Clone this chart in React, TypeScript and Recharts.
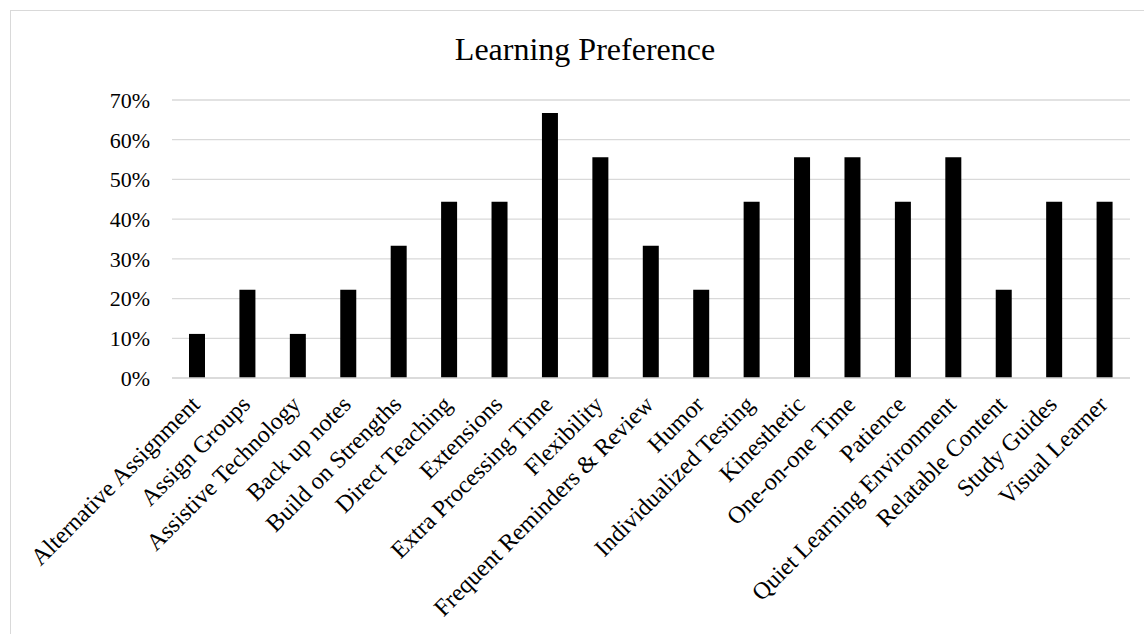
import React from 'react';
import { BarChart, Bar, XAxis, YAxis, CartesianGrid } from 'recharts';

const categories = [
  'Alternative Assignment',
  'Assign Groups',
  'Assistive Technology',
  'Back up notes',
  'Build on Strengths',
  'Direct Teaching',
  'Extensions',
  'Extra Processing Time',
  'Flexibility',
  'Frequent Reminders & Review',
  'Humor',
  'Individualized Testing',
  'Kinesthetic',
  'One-on-one Time',
  'Patience',
  'Quiet Learning Environment',
  'Relatable Content',
  'Study Guides',
  'Visual Learner',
];

const shares = [
  0.111, 0.222, 0.111, 0.222, 0.333, 0.444, 0.444, 0.667, 0.556, 0.333,
  0.222, 0.444, 0.556, 0.556, 0.444, 0.556, 0.222, 0.444, 0.444,
];

const yTicks = [0, 0.1, 0.2, 0.3, 0.4, 0.5, 0.6, 0.7];

const FONT = '"Liberation Serif", "Times New Roman", serif';

const data = categories.map((name, i) => ({ name, share: shares[i] }));

// rotated category labels, text ends just right of the tick
const CategoryTick = (props: any) => {
  const { x, y, payload } = props;
  const tx = x + 4;
  const ty = y + 28;
  return (
    <text
      x={tx}
      y={ty}
      transform={`rotate(-45, ${tx}, ${ty})`}
      textAnchor="end"
      fontFamily={FONT}
      fontSize={24}
      fill="#000"
    >
      {payload.value}
    </text>
  );
};

const App: React.FC = () => {
  return (
    <div style={{ position: 'absolute', left: 0, top: 0, width: 1144, height: 634, overflow: 'hidden', background: '#fff' }}>
      {/* chart frame */}
      <div style={{ position: 'absolute', left: 10, top: 10, width: 1160, height: 660, border: '1px solid #d9d9d9' }} />

      <div
        style={{
          position: 'absolute',
          left: 0,
          width: 1170,
          top: 33,
          textAlign: 'center',
          fontFamily: FONT,
          fontSize: 32,
          lineHeight: '32px',
          color: '#000',
        }}
      >
        Learning Preference
      </div>

      <div style={{ position: 'absolute', left: 0, top: 0 }}>
        <BarChart
          width={1144}
          height={634}
          data={data}
          margin={{ top: 100, right: 14, bottom: 0, left: 0 }}
          barCategoryGap={0}
        >
          <CartesianGrid vertical={false} stroke="#d9d9d9" strokeWidth={1.3} />
          <XAxis
            dataKey="name"
            interval={0}
            height={256}
            axisLine={{ stroke: '#d9d9d9', strokeWidth: 1.3 }}
            tickLine={false}
            tickSize={0}
            tickMargin={0}
            tick={<CategoryTick />}
          />
          <YAxis
            width={172}
            domain={[0, 0.7]}
            ticks={yTicks}
            axisLine={false}
            tickLine={false}
            tickSize={0}
            tickMargin={22}
            tickFormatter={(v: number) => `${Math.round(v * 100)}%`}
            tick={{ fontFamily: FONT, fontSize: 22, fill: '#000' }}
          />
          <Bar dataKey="share" fill="#000" barSize={16} isAnimationActive={false} />
        </BarChart>
      </div>
    </div>
  );
};

export default App;
